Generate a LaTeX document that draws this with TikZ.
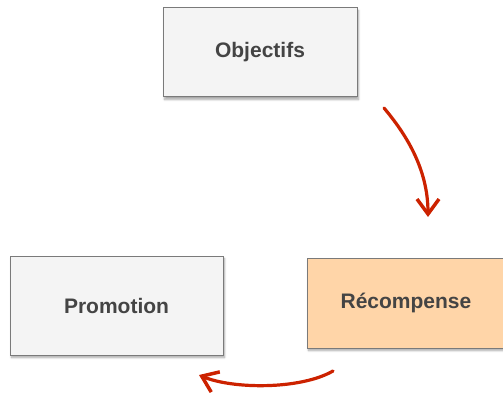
\documentclass[tikz,border=0pt]{standalone}
\usepackage{fontspec}
\setmainfont{Liberation Sans}
\usetikzlibrary{arrows.meta,shadows.blur}
\definecolor{boxgray}{HTML}{F4F4F4}
\definecolor{boxline}{HTML}{7A7A7A}
\definecolor{peach}{HTML}{FFD5A8}
\definecolor{txt}{HTML}{444444}
\definecolor{arrred}{HTML}{CC2200}
\tikzset{
  box/.style={draw=boxline, line width=1pt, fill=boxgray, text=txt,
    font=\fontsize{21}{25}\selectfont\bfseries, inner sep=0pt,
    blur shadow={shadow xshift=1.5pt, shadow yshift=-2.5pt, shadow blur steps=6, shadow opacity=35}},
  flow/.style={draw=arrred, line width=3.2pt, line cap=round,
    -{Straight Barb[length=15pt,width=22pt,line width=3.5pt]}}
}
\begin{document}
\begin{tikzpicture}[x=1pt,y=-1pt]
\useasboundingbox (0,0) rectangle (503,393);
\clip (0,0) rectangle (503,393);
\node[box, minimum width=194pt, minimum height=89pt] (obj) at (260,52.5) {Objectifs};
\node[box, minimum width=213pt, minimum height=99pt] (pro) at (116.5,305.5) {Promotion};
\node[box, fill=peach, minimum width=198pt, minimum height=90pt] (rec) at (406,303) {Récompense};
\coordinate (a1s) at (384,108);
\coordinate (a1e) at (428,217);
\coordinate (a2s) at (333,371);
\coordinate (a2e) at (199,375);
\draw[flow] (a1s) .. controls (405,133) and (428,168) .. (a1e);
\draw[flow] (a2s) .. controls (300,390) and (232,389) .. (a2e);
\end{tikzpicture}
\end{document}
